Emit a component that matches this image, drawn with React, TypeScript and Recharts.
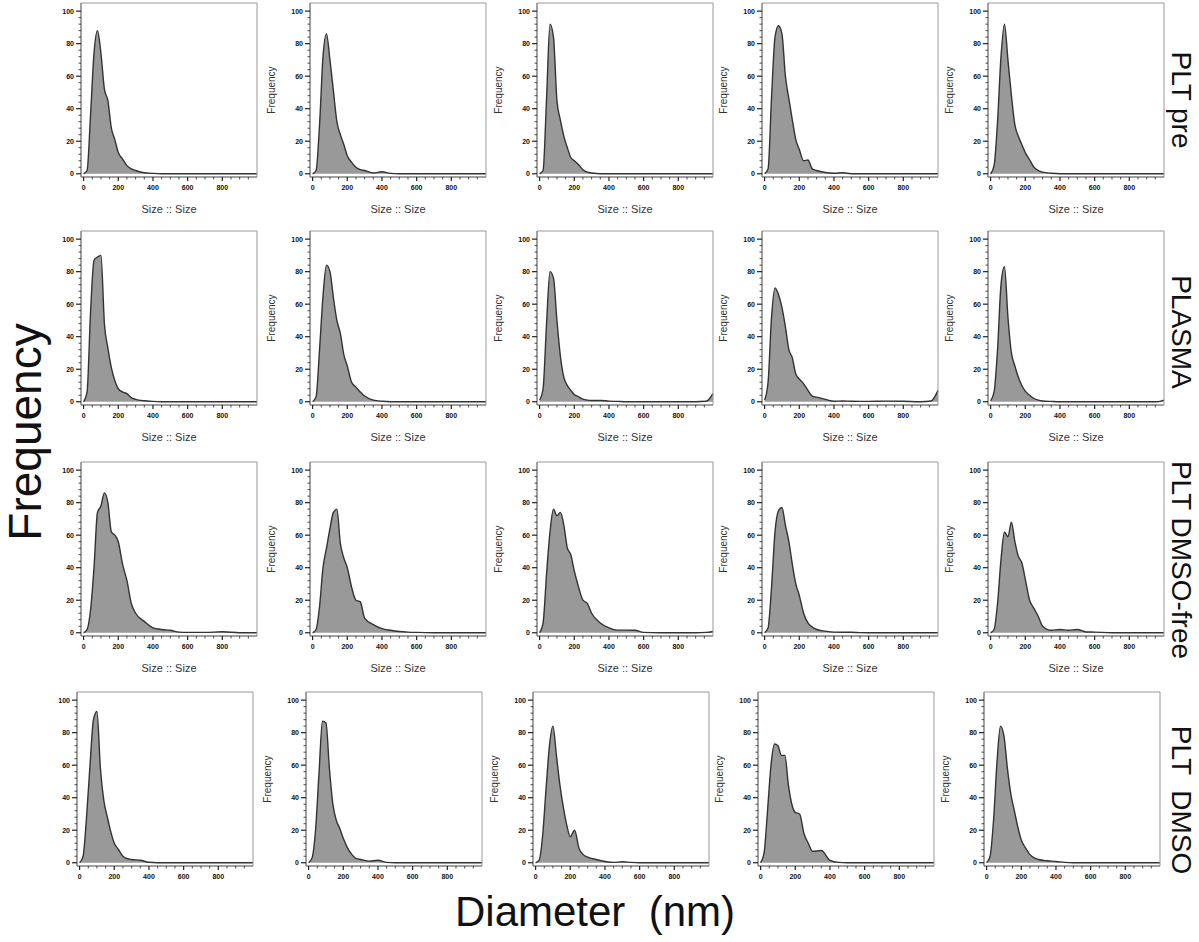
import { AreaChart, Area, XAxis, YAxis, ReferenceArea } from 'recharts';

// particle size bins (nm)
const sizes = [0, 20, 40, 60, 80, 100, 120, 140, 160, 180, 200, 225, 250, 275, 300, 350, 400, 450, 500, 550, 600, 700, 800, 900, 960, 1000];

// PLT pre
const pltPre1 = [0, 2, 36, 74, 88, 74, 52, 45, 28, 21, 13, 9, 5, 3, 2, 0.6, 0.2, 0, 0, 0, 0, 0, 0, 0, 0, 0];
const pltPre2 = [0, 2, 30, 72, 86, 70, 51, 32, 24, 18, 11, 7, 4, 2.5, 2, 0.5, 1.2, 0.2, 0, 0, 0, 0, 0, 0, 0, 0];
const pltPre3 = [0, 2, 46, 92, 84, 45, 33, 23, 16, 10, 8, 5.5, 2.5, 1, 0.5, 0, 0, 0, 0, 0, 0, 0, 0, 0, 0, 0];
const pltPre4 = [0, 3, 47, 84, 91, 86, 60, 46, 33, 21, 15, 8, 8.5, 3, 2, 0.8, 0.3, 0.6, 0, 0, 0, 0, 0, 0, 0, 0];
const pltPre5 = [0, 5, 32, 72, 92, 70, 48, 30, 23, 18, 13, 8.6, 4, 2, 1, 0.3, 0, 0, 0, 0, 0, 0, 0, 0, 0, 0];

// PLASMA
const plasma1 = [0, 6, 55, 87, 89, 90, 48, 33, 21, 13, 8, 6, 5, 2.5, 1.5, 0.6, 0.2, 0, 0, 0, 0, 0, 0, 0, 0, 0];
const plasma2 = [0, 3, 32, 65, 84, 80, 64, 50, 42, 29, 22, 12, 9, 6, 3.5, 1, 0.3, 0, 0, 0, 0, 0, 0, 0, 0, 0];
const plasma3 = [1, 8, 48, 80, 76, 50, 28, 15, 10, 7, 4.5, 3, 1.6, 1, 0.8, 0.8, 0.4, 0.2, 0, 0, 0, 0, 0, 0, 0.3, 5];
const plasma4 = [1, 12, 52, 70, 66, 58, 46, 32, 27, 17, 14, 11, 7, 3.5, 2.8, 1.5, 0.3, 0.5, 0.3, 0.2, 0.2, 0.4, 0.3, 0, 0.5, 7];
const plasma5 = [0.5, 6, 32, 72, 83, 52, 30, 22, 15, 10, 6.5, 4, 2, 1, 0.5, 0.2, 0, 0, 0, 0, 0, 0, 0, 0, 0, 1];

// PLT DMSO-free
const dmsoFree1 = [0, 2, 14, 40, 74, 78, 86, 80, 62, 60, 56, 42, 32, 18, 12, 7, 3, 2, 1.5, 0.4, 0.2, 0.2, 0.6, 0, 0, 0];
const dmsoFree2 = [0, 2, 16, 40, 52, 64, 74, 76, 55, 46, 40, 28, 20, 19, 9, 5, 2.5, 1.5, 0.8, 0.4, 0.2, 0, 0, 0, 0, 0];
const dmsoFree3 = [0, 6, 36, 62, 76, 72, 74, 66, 52, 48, 38, 28, 20, 18, 12, 6, 3, 1.6, 1.6, 1.5, 0.2, 0, 0, 0, 0.2, 0.8];
const dmsoFree4 = [0, 3, 28, 62, 75, 77, 66, 56, 42, 30, 23, 12, 6, 3.5, 2, 1, 0.4, 0.3, 0.3, 0.1, 0, 0, 0, 0, 0, 0];
const dmsoFree5 = [0, 2, 18, 45, 62, 59, 68, 56, 47, 43, 33, 20, 15, 10, 4, 1.5, 2, 1.5, 2, 0.5, 0.4, 0, 0, 0, 0, 0];

// PLT DMSO
const dmso1 = [0, 4, 28, 60, 88, 93, 58, 38, 28, 19, 12, 8, 4, 2.5, 2, 1.5, 0.3, 0, 0, 0, 0, 0, 0, 0, 0, 0];
const dmso2 = [0, 3, 20, 55, 87, 86, 58, 36, 26, 21, 15, 9, 5, 2.5, 2, 1, 1.5, 0.2, 0, 0, 0, 0, 0, 0, 0, 0];
const dmso3 = [0, 1.5, 16, 45, 72, 84, 66, 48, 34, 23, 16, 20, 9, 5, 3.5, 2, 0.8, 0.2, 0.6, 0.2, 0, 0, 0, 0, 0, 0];
const dmso4 = [0, 6, 32, 60, 73, 72, 66, 66, 48, 36, 31, 30, 18, 12, 7, 7.5, 1.5, 0.2, 0, 0, 0, 0, 0, 0, 0, 0];
const dmso5 = [0, 4, 26, 62, 84, 78, 58, 42, 32, 22, 14, 9, 5, 3, 2, 1.2, 0.8, 0.2, 0, 0, 0, 0, 0, 0, 0, 0];

const rowLabels = ['PLT pre', 'PLASMA', 'PLT DMSO-free', 'PLT  DMSO'];
const rows = [
  [pltPre1, pltPre2, pltPre3, pltPre4, pltPre5],
  [plasma1, plasma2, plasma3, plasma4, plasma5],
  [dmsoFree1, dmsoFree2, dmsoFree3, dmsoFree4, dmsoFree5],
  [dmso1, dmso2, dmso3, dmso4, dmso5],
];

// major ticks get a label, the rest are minor
const xTicks = [0, 50, 100, 150, 200, 250, 300, 350, 400, 450, 500, 550, 600, 650, 700, 750, 800, 850, 900, 950];
const xLabels = [0, 200, 400, 600, 800];
const yTicks = [0, 4, 8, 12, 16, 20, 24, 28, 32, 36, 40, 44, 48, 52, 56, 60, 64, 68, 72, 76, 80, 84, 88, 92, 96, 100];
const yLabels = [0, 20, 40, 60, 80, 100];

const FONT = '"Liberation Sans", Arial, Helvetica, sans-serif';
const boxLefts = [81, 310, 537, 762, 988];
const boxTops = [3, 231, 462, 692];
const Y_W = 50;
const PLOT_W = 176;
const PLOT_H = 174;

const XTick = (props: any) => {
  const { x, y, payload } = props;
  const major = xLabels.includes(payload.value);
  return (
    <g>
      <line x1={x} x2={x} y1={y} y2={y + (major ? 4 : 2.5)} stroke="#222" strokeWidth={major ? 1.2 : 0.8} />
      {major && (
        <text x={x} y={y + 13} textAnchor="middle" fontSize={7} fontWeight="bold" fill="#111" fontFamily={FONT}>
          {payload.value}
        </text>
      )}
    </g>
  );
};

const YTick = (props: any) => {
  const { x, y, payload } = props;
  const major = yLabels.includes(payload.value);
  return (
    <g>
      <line x1={x} x2={x - (major ? 5 : 2.5)} y1={y} y2={y} stroke="#222" strokeWidth={major ? 1.2 : 0.8} />
      {major && (
        <text x={x - 7} y={y + 2.5} textAnchor="end" fontSize={7} fontWeight="bold" fill="#111" fontFamily={FONT}>
          {payload.value}
        </text>
      )}
    </g>
  );
};

function Panel({ values, col, row }: { values: number[]; col: number; row: number }) {
  const data = sizes.map((s, i) => ({ size: s, freq: values[i] }));
  const lastRow = row === 3;
  const xH = lastRow ? 22 : 40;
  const left = boxLefts[col] - Y_W - (lastRow ? 4 : 0);
  const top = boxTops[row] - 4;
  return (
    <div style={{ position: 'absolute', left, top }}>
      <AreaChart
        width={Y_W + PLOT_W + 4}
        height={4 + PLOT_H + xH}
        data={data}
        margin={{ top: 4, right: 4, left: 0, bottom: 0 }}
      >
        <XAxis
          dataKey="size"
          type="number"
          domain={[-15, 1000]}
          ticks={xTicks}
          interval={0}
          tick={(p: any) => <XTick {...p} />}
          tickLine={false}
          tickSize={0}
          tickMargin={0}
          axisLine={{ stroke: '#777' }}
          height={xH}
          label={
            lastRow
              ? undefined
              : { value: 'Size :: Size', position: 'insideBottom', offset: 4, fontSize: 11, fill: '#333', fontFamily: FONT }
          }
        />
        <YAxis
          type="number"
          domain={[-2, 105]}
          ticks={yTicks}
          interval={0}
          tick={(p: any) => <YTick {...p} />}
          tickLine={false}
          tickSize={0}
          tickMargin={0}
          axisLine={{ stroke: '#777' }}
          width={Y_W}
          label={
            col === 0
              ? undefined
              : {
                  value: 'Frequency',
                  angle: -90,
                  position: 'insideLeft',
                  offset: 11,
                  fontSize: 10,
                  fill: '#333',
                  fontFamily: FONT,
                  style: { textAnchor: 'middle' },
                }
          }
        />
        <Area
          type="monotone"
          dataKey="freq"
          stroke="#333"
          strokeWidth={1.4}
          fill="#999"
          fillOpacity={1}
          dot={false}
          activeDot={false}
          isAnimationActive={false}
        />
        <ReferenceArea x1={-15} x2={1000} y1={-2} y2={105} fill="none" stroke="#999" ifOverflow="visible" />
      </AreaChart>
    </div>
  );
}

export default function App() {
  const rowCenters = [100, 332, 560, 800];
  return (
    <div style={{ position: 'absolute', left: 0, top: 0, width: 1199, height: 942, background: '#fff', fontFamily: FONT }}>
      {rows.map((series, r) =>
        series.map((values, c) => <Panel key={`${r}-${c}`} values={values} col={c} row={r} />)
      )}
      {rowLabels.map((label, r) => (
        <div
          key={label}
          style={{
            position: 'absolute',
            left: 1181,
            top: rowCenters[r],
            transform: 'translate(-50%, -50%) rotate(90deg)',
            fontSize: 28,
            lineHeight: 1,
            whiteSpace: 'pre',
            color: '#111',
          }}
        >
          {label}
        </div>
      ))}
      <div
        style={{
          position: 'absolute',
          left: 25,
          top: 432,
          transform: 'translate(-50%, -50%) rotate(-90deg)',
          fontSize: 46,
          lineHeight: 1,
          whiteSpace: 'nowrap',
          color: '#111',
        }}
      >
        Frequency
      </div>
      <div
        style={{
          position: 'absolute',
          left: 595,
          top: 912,
          transform: 'translate(-50%, -50%)',
          fontSize: 42,
          whiteSpace: 'pre',
          color: '#111',
        }}
      >
        {'Diameter  (nm)'}
      </div>
    </div>
  );
}
